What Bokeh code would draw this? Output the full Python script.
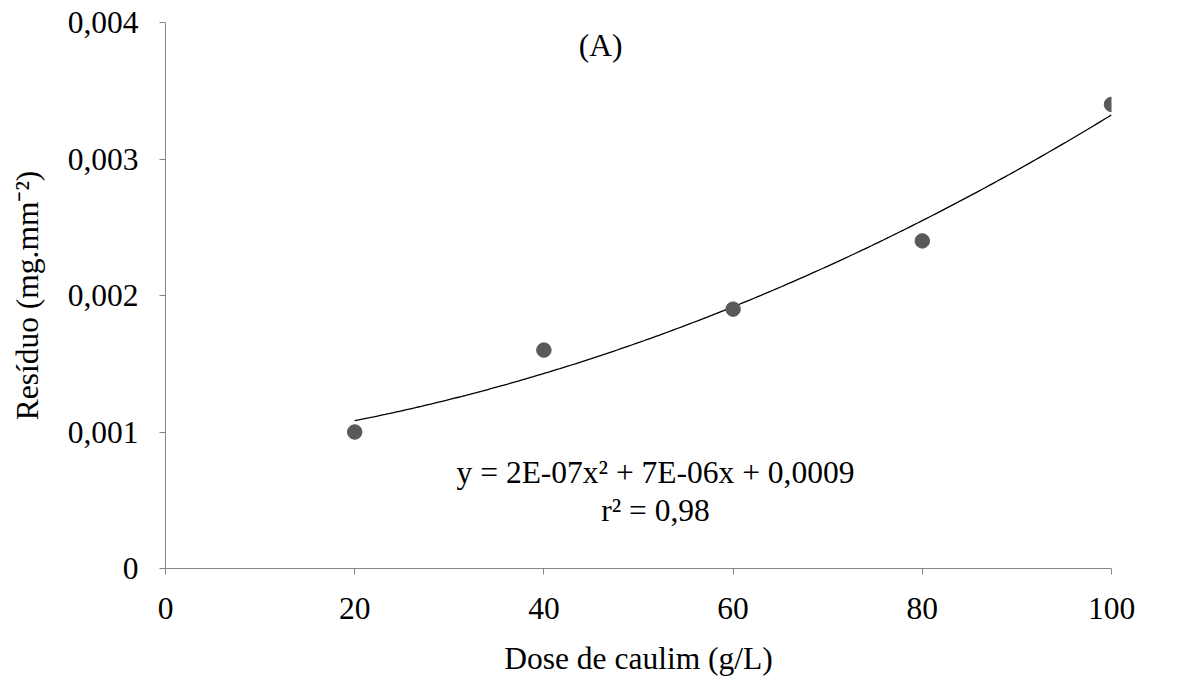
from bokeh.plotting import figure
from bokeh.models import FixedTicker, CustomJSTickFormatter, Range1d
from bokeh.core.properties import value
from bokeh.embed import file_html
from bokeh.resources import INLINE
import numpy as np

# data
dose = [20, 40, 60, 80, 100]
residuo = [0.0010, 0.0016, 0.0019, 0.0024, 0.0034]
x_ticks = [0, 20, 40, 60, 80, 100]
y_ticks = [0, 0.001, 0.002, 0.003, 0.004]
eq_text = "y = 2E-07x² + 7E-06x + 0,0009"
r2_text = "r² = 0,98"
panel_text = "(A)"
x_label = "Dose de caulim (g/L)"
y_label = "Resíduo (mg.mm⁻²)"

FONT = "Liberation Serif"
FS = "31.5px"

p = figure(width=1165, height=678, output_backend="svg", toolbar_location=None,
           x_range=Range1d(0, 100), y_range=Range1d(0, 0.004),
           min_border_left=165, min_border_right=54, min_border_top=22, min_border_bottom=110)
p.outline_line_color = None
p.xgrid.visible = False
p.ygrid.visible = False

# quadratic trendline (least squares, as the spreadsheet does)
coef = np.polyfit(dose, residuo, 2)
xs = np.linspace(min(dose), max(dose), 200)
p.line(xs, np.polyval(coef, xs), line_color="black", line_width=1.3)

p.scatter(dose, residuo, size=14.5, fill_color="#595959", line_color="#595959")

p.text(x=[46], y=[0.00383], text=[panel_text], text_font=value(FONT), text_font_size=FS,
       text_align="center", text_baseline="middle", text_color="black")
p.text(x=[51.8, 51.8], y=[0.000705, 0.000425], text=[eq_text, r2_text], text_font=value(FONT),
       text_font_size=FS, text_align="center", text_baseline="middle", text_color="black")

for ax in (p.xaxis[0], p.yaxis[0]):
    ax.axis_line_color = "#868686"
    ax.major_tick_line_color = "#868686"
    ax.minor_tick_line_color = None
    ax.major_tick_in = 0
    ax.major_tick_out = 6
    ax.major_label_text_font = FONT
    ax.major_label_text_font_size = FS
    ax.major_label_text_color = "black"
    ax.axis_label_text_font = FONT
    ax.axis_label_text_font_size = FS
    ax.axis_label_text_font_style = "normal"
    ax.axis_label_text_color = "black"

p.xaxis.ticker = FixedTicker(ticks=x_ticks)
p.yaxis.ticker = FixedTicker(ticks=y_ticks)
p.yaxis.formatter = CustomJSTickFormatter(code="return tick == 0 ? '0' : tick.toFixed(3).replace('.', ',');")
p.xaxis.major_label_standoff = 23
p.yaxis.major_label_standoff = 21
p.xaxis.axis_label = x_label
p.yaxis.axis_label = y_label
p.xaxis.axis_label_standoff = 19
p.yaxis.axis_label_standoff = 20

open("out.html", "w").write(file_html(p, INLINE))
